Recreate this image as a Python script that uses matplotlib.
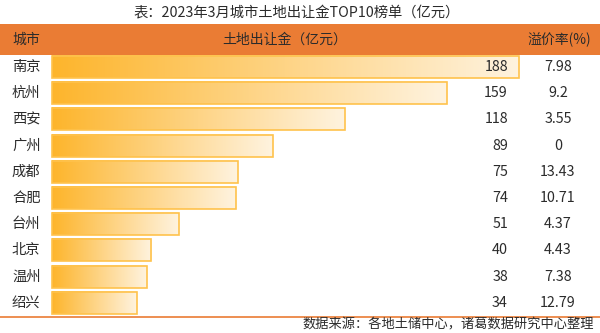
import numpy as np
import matplotlib
matplotlib.use("Agg")
import matplotlib.pyplot as plt
from matplotlib.colors import LinearSegmentedColormap

plt.rcParams['font.family'] = ['Noto Sans CJK SC', 'DejaVu Sans']

cities = ["南京", "杭州", "西安", "广州", "成都", "合肥", "台州", "北京", "温州", "绍兴"]
land_sales = [188, 159, 118, 89, 75, 74, 51, 40, 38, 34]
premium = ["7.98", "9.2", "3.55", "0", "13.43", "10.71", "4.37", "4.43", "7.38", "12.79"]

title = "表：2023年3月城市土地出让金TOP10榜单（亿元）"
col_headers = ["城市", "土地出让金（亿元）", "溢价率(%)"]
source = "数据来源：各地土储中心，诸葛数据研究中心整理"

W, H = 600, 333
ORANGE = "#EA7C34"
TEXT = "#2B2B2B"

fig = plt.figure(figsize=(W / 100, H / 100), dpi=100)

# background layer in pixel coordinates: header band, rules and text
bg = fig.add_axes([0, 0, 1, 1])
bg.set_xlim(0, W)
bg.set_ylim(H, 0)
bg.axis("off")

bg.text(297, 13, title, ha="center", va="center", fontsize=10.3, color=TEXT)
bg.axhspan(24, 55, color=ORANGE, lw=0)
bg.text(12, 40, col_headers[0], ha="left", va="center", fontsize=10, color=TEXT)
bg.text(285, 40, col_headers[1], ha="center", va="center", fontsize=10, color=TEXT)
bg.text(559, 40, col_headers[2], ha="center", va="center", fontsize=10, color=TEXT)
bg.axhline(316.5, color=ORANGE, lw=1.2)
bg.text(594, 325.5, source, ha="right", va="center", fontsize=9.5, color=TEXT)

# bar layer: x in 亿元, y in row index
row0, pitch = 67.0, 26.2
x0, scale = 52.3, 2.48
ax = fig.add_axes([0, 0, 1, 1], zorder=2)
ax.patch.set_alpha(0)
ax.set_xlim(-x0 / scale, (W - x0) / scale)
ax.set_ylim((H - row0) / pitch, -row0 / pitch)
ax.axis("off")

cmap = LinearSegmentedColormap.from_list("bar", ["#FDB52C", "#FFF3DF"])
grad = np.linspace(0, 1, 256).reshape(1, -1)
h = 0.84
for i, (city, v, p) in enumerate(zip(cities, land_sales, premium)):
    ax.imshow(grad, cmap=cmap, aspect="auto", extent=(0, v, i + h / 2, i - h / 2),
              interpolation="bilinear", zorder=1)
    ax.barh(i, v, height=h, fill=False, edgecolor="#FFC24C", lw=1.2, zorder=2)
    ax.text(-x0 / scale + 12 / scale, i, city, ha="left", va="center",
            fontsize=10.3, color=TEXT)
    ax.text((508 - x0) / scale, i, str(v), ha="right", va="center",
            fontsize=10.3, color=TEXT, zorder=3)
    ax.text((558 - x0) / scale, i, p, ha="center", va="center",
            fontsize=10.3, color=TEXT)

ax.set_xlim(-x0 / scale, (W - x0) / scale)
ax.set_ylim((H - row0) / pitch, -row0 / pitch)

fig.savefig("out.png", dpi=100)
